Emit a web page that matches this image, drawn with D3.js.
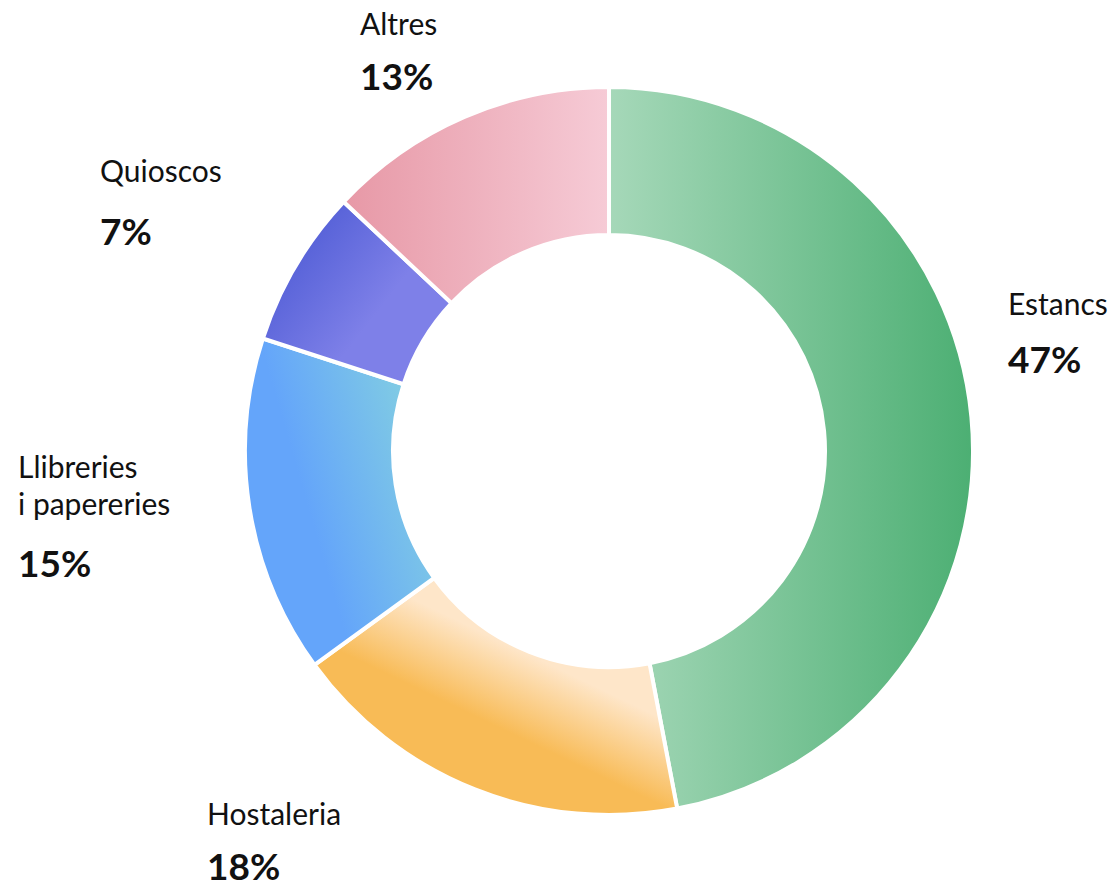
<!DOCTYPE html>
<html><head><meta charset="utf-8">
<script src="https://cdn.jsdelivr.net/npm/d3@7"></script>
<style>
html,body{margin:0;padding:0;background:#fff;}
svg text{font-family:"Source Sans Pro","Lato","Noto Sans",sans-serif;fill:#111;}
</style></head>
<body>
<svg id="chart" width="1111" height="887"></svg>
<script>
const categories = ["Estancs", "Hostaleria", "Llibreries i papereries", "Quioscos", "Altres"];
const values = [47, 18, 15, 7, 13];
const labelLines = [["Estancs"], ["Hostaleria"], ["Llibreries", "i papereries"], ["Quioscos"], ["Altres"]];
const percentLabels = ["47%", "18%", "15%", "7%", "13%"];

// gradient vectors in pixels relative to chart centre
const gradients = [
  {x1:0, y1:0, x2:364, y2:0, stops:[[0,"#a6d8b9"],[1,"#4caf73"]]},
  {x1:-15, y1:322, x2:19, y2:251, stops:[[0,"#f8bb56"],[1,"#fee6c9"]]},
  {x1:-300, y1:60, x2:-180, y2:25, stops:[[0,"#64a5fa"],[1,"#80cbe4"]]},
  {x1:-305, y1:-230, x2:-215, y2:-160, stops:[[0,"#525ed6"],[1,"#7e80e8"]]},
  {x1:-266, y1:0, x2:0, y2:0, stops:[[0,"#e798a6"],[1,"#f6cbd6"]]}
];
const labelPos = [
  {x:1008, y:315, pct:373},
  {x:207, y:825, pct:880},
  {x:18, y:478, pct:577},
  {x:100, y:182, pct:245},
  {x:360, y:35, pct:90}
];

const svg = d3.select("#chart");
const cx = 609, cy = 451, rOuter = 364, rInner = 216;

const defs = svg.append("defs");
gradients.forEach((g,i)=>{
  const lg = defs.append("linearGradient").attr("id","grad"+i)
    .attr("gradientUnits","userSpaceOnUse")
    .attr("x1",g.x1).attr("y1",g.y1).attr("x2",g.x2).attr("y2",g.y2);
  g.stops.forEach(s=>lg.append("stop").attr("offset",s[0]).attr("stop-color",s[1]));
});

const data = categories.map((c,i)=>({name:c, value:values[i], idx:i}));
const pie = d3.pie().sort(null).value(d=>d.value);
const arc = d3.arc().innerRadius(rInner).outerRadius(rOuter);

const g = svg.append("g").attr("transform",`translate(${cx},${cy})`);
g.selectAll("path").data(pie(data)).join("path")
  .attr("d",arc)
  .attr("fill",d=>`url(#grad${d.data.idx})`)
  .attr("stroke","#fff").attr("stroke-width",4).attr("stroke-linejoin","miter");

data.forEach((d,i)=>{
  const p = labelPos[i];
  labelLines[i].forEach((line,j)=>{
    svg.append("text").attr("x",p.x).attr("y",p.y + j*37)
      .attr("font-size",30).text(line);
  });
  svg.append("text").attr("x",p.x).attr("y",p.pct)
    .attr("font-size",37).attr("font-weight",700).text(percentLabels[i]);
});
</script>
</body></html>
